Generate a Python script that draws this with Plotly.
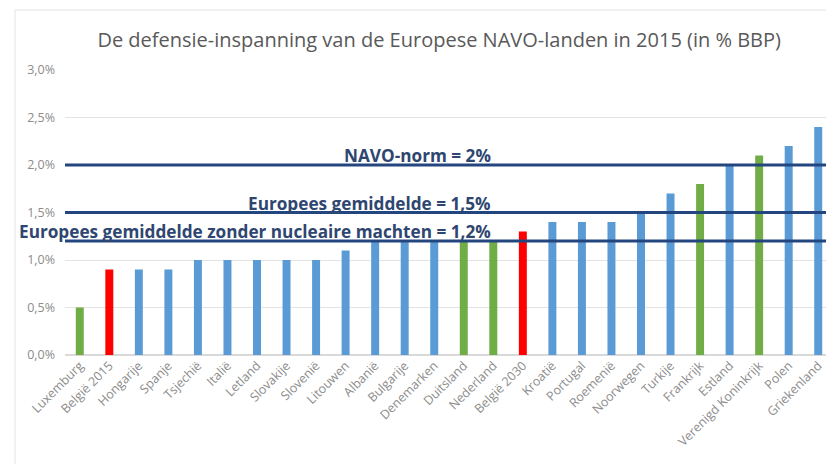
import plotly.graph_objects as go

countries = ["Luxemburg", "België 2015", "Hongarije", "Spanje", "Tsjechië", "Italië", "Letland",
             "Slovakije", "Slovenië", "Litouwen", "Albanië", "Bulgarije", "Denemarken", "Duitsland",
             "Nederland", "België 2030", "Kroatië", "Portugal", "Roemenië", "Noorwegen", "Turkije",
             "Frankrijk", "Estland", "Verenigd Koninkrijk", "Polen", "Griekenland"]
values = [0.5, 0.9, 0.9, 0.9, 1.0, 1.0, 1.0, 1.0, 1.0, 1.1, 1.2, 1.2, 1.2, 1.2, 1.2, 1.3,
          1.4, 1.4, 1.4, 1.5, 1.7, 1.8, 2.0, 2.1, 2.2, 2.4]
groups = ["nuc", "bel", "std", "std", "std", "std", "std", "std", "std", "std", "std", "std", "std",
          "nuc", "nuc", "bel", "std", "std", "std", "std", "std", "nuc", "std", "nuc", "std", "std"]
group_colors = {"std": "#5B9BD5", "nuc": "#70AD47", "bel": "#FF0000"}

ref_values = [2.0, 1.5, 1.2]
ref_labels = ["NAVO-norm = 2%", "Europees gemiddelde = 1,5%",
              "Europees gemiddelde zonder nucleaire machten = 1,2%"]

y_ticks = [0, 0.5, 1.0, 1.5, 2.0, 2.5, 3.0]
y_tick_labels = ["0,0%", "0,5%", "1,0%", "1,5%", "2,0%", "2,5%", "3,0%"]

title = "De defensie-inspanning van de Europese NAVO-landen in 2015 (in % BBP)"

fig = go.Figure()
fig.add_trace(go.Bar(
    x=countries, y=values,
    marker=dict(color=[group_colors[g] for g in groups], line=dict(width=0)),
    showlegend=False,
))

for v, lab in zip(ref_values, ref_labels):
    fig.add_shape(type="line", xref="paper", x0=0, x1=1, yref="y", y0=v, y1=v,
                  line=dict(color="#24467F", width=3), layer="above")
    fig.add_annotation(xref="paper", x=0.556, xanchor="right", yref="y", y=v, yanchor="bottom",
                       yshift=-3, borderpad=0, text="<b>" + lab + "</b>", showarrow=False,
                       font=dict(family="Open Sans", size=17.2, color="#2E4670"))

# faint outer chart border
fig.add_shape(type="rect", xref="paper", yref="paper", x0=-0.065, x1=1.03, y0=-0.45, y1=1.2105,
              line=dict(color="#EDEDED", width=1.5), layer="below")

fig.update_layout(
    width=834, height=464,
    margin=dict(l=57, r=9, t=62, b=117),
    paper_bgcolor="white", plot_bgcolor="white",
    bargap=0.73,
    title=dict(text=title, x=0.517, xanchor="center", y=0.931, yanchor="middle",
               font=dict(family="Open Sans", size=20, color="#595959")),
    font=dict(family="Open Sans", color="#7F7F7F"),
)
fig.update_yaxes(range=[0, 3.0], tickvals=y_ticks, ticktext=y_tick_labels,
                 showgrid=True, gridcolor="#E3E3E3", gridwidth=1, zeroline=True,
                 zerolinecolor="#D9D9D9", ticks="", tickfont=dict(size=12.5, color="#8C8C8C"),
                 ticklabelstandoff=9, automargin=False)
fig.update_xaxes(tickangle=-45, tickfont=dict(size=12.5, color="#8C8C8C"), showline=False,
                 ticks="", automargin=False)

fig.write_html("out.html")
